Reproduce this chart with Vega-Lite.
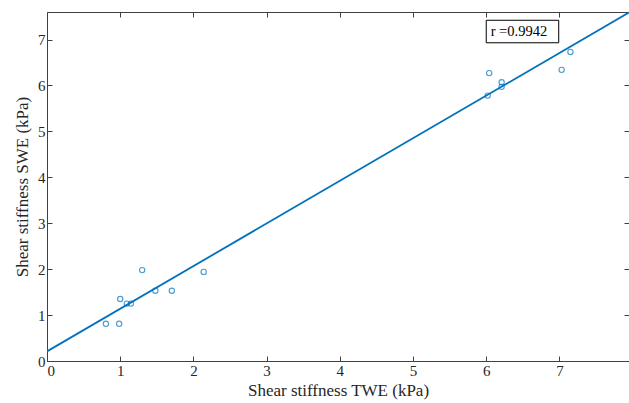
{
  "$schema": "https://vega.github.io/schema/vega-lite/v6.json",
  "width": 582,
  "height": 349,
  "autosize": "none",
  "padding": {"left": 47, "top": 12, "right": 0, "bottom": 42},
  "background": "white",
  "config": {
    "view": {"stroke": null},
    "font": "Liberation Serif",
    "axis": {
      "grid": false,
      "domainColor": "#404040",
      "tickColor": "#404040",
      "labelColor": "#262626",
      "titleColor": "#262626",
      "labelFont": "Liberation Serif",
      "titleFont": "Liberation Serif",
      "labelFontSize": 15,
      "titleFontSize": 17,
      "titleFontWeight": "normal",
      "tickSize": -5,
      "labelPadding": 7
    }
  },
  "datasets": {
    "pts": [
      {"twe": 0.805, "swe": 0.81},
      {"twe": 0.986, "swe": 0.81},
      {"twe": 1.0, "swe": 1.35},
      {"twe": 1.09, "swe": 1.25},
      {"twe": 1.146, "swe": 1.25},
      {"twe": 1.30, "swe": 1.98},
      {"twe": 1.48, "swe": 1.53},
      {"twe": 1.705, "swe": 1.53},
      {"twe": 2.14, "swe": 1.94},
      {"twe": 6.04, "swe": 6.27},
      {"twe": 6.02, "swe": 5.78},
      {"twe": 6.21, "swe": 6.07},
      {"twe": 6.21, "swe": 5.97},
      {"twe": 7.03, "swe": 6.34},
      {"twe": 7.15, "swe": 6.73}
    ],
    "fit": [
      {"twe": 0, "swe": 0.21},
      {"twe": 7.95, "swe": 7.59}
    ],
    "ann": [
      {"x1": 6.0, "x2": 6.99, "y1": 7.42, "y2": 6.93, "tx": 6.06, "ty": 7.175, "label": "r =0.9942"}
    ]
  },
  "layer": [
    {
      "data": {"name": "fit"},
      "mark": {"type": "line", "color": "#0072BD", "strokeWidth": 1.8, "clip": true},
      "encoding": {
        "x": {"field": "twe", "type": "quantitative", "scale": {"domain": [0, 7.95], "nice": false, "zero": false},
          "axis": {"title": "Shear stiffness TWE (kPa)", "values": [0,1,2,3,4,5,6,7], "format": "d", "titlePadding": 4}},
        "y": {"field": "swe", "type": "quantitative", "scale": {"domain": [0, 7.6], "nice": false, "zero": false},
          "axis": {"title": "Shear stiffness SWE (kPa)", "values": [0,1,2,3,4,5,6,7], "format": "d", "titlePadding": 6}}
      }
    },
    {
      "data": {"name": "pts"},
      "mark": {"type": "point", "shape": "circle", "filled": false, "color": "#0072BD", "size": 28, "strokeWidth": 1.1},
      "encoding": {
        "x": {"field": "twe", "type": "quantitative", "axis": null},
        "y": {"field": "swe", "type": "quantitative", "axis": null}
      }
    },
    {
      "data": {"name": "ann"},
      "mark": {"type": "rect", "fill": "white", "stroke": "#000000", "strokeWidth": 1},
      "encoding": {
        "x": {"field": "x1", "type": "quantitative", "axis": null},
        "x2": {"field": "x2"},
        "y": {"field": "y1", "type": "quantitative", "axis": null},
        "y2": {"field": "y2"}
      }
    },
    {
      "data": {"name": "ann"},
      "mark": {"type": "text", "align": "left", "baseline": "middle", "font": "Liberation Serif", "fontSize": 14.5, "color": "#000000"},
      "encoding": {
        "x": {"field": "tx", "type": "quantitative", "axis": null},
        "y": {"field": "ty", "type": "quantitative", "axis": null},
        "text": {"field": "label"}
      }
    },
    {
      "data": {"values": [{"a": 0}]},
      "mark": {"type": "point", "opacity": 0},
      "encoding": {
        "x": {"datum": 0, "type": "quantitative",
          "axis": {"orient": "top", "labels": false, "title": null, "values": [0,1,2,3,4,5,6,7]}},
        "y": {"datum": 0, "type": "quantitative",
          "axis": {"orient": "right", "labels": false, "title": null, "values": [0,1,2,3,4,5,6,7]}}
      }
    }
  ],
  "resolve": {"axis": {"x": "independent", "y": "independent"}}
}
